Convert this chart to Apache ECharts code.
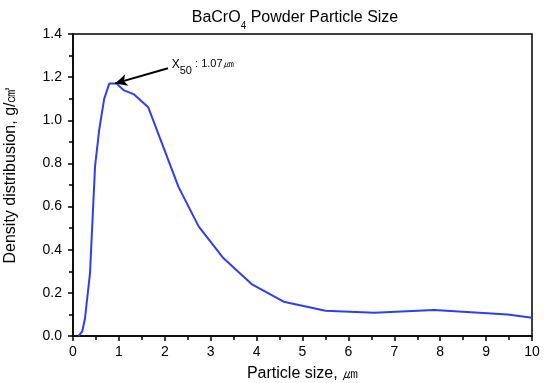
<!DOCTYPE html>
<html>
<head>
<meta charset="utf-8">
<script src="https://cdn.jsdelivr.net/npm/echarts@6/dist/echarts.min.js"></script>
<style>html,body{margin:0;padding:0;background:#fff;}#c{width:544px;height:383px;}</style>
</head>
<body>
<div id="c"></div>
<script>
const particleSize = [0.12, 0.2, 0.26, 0.37, 0.48, 0.57, 0.68, 0.79, 0.95, 1.10, 1.33, 1.64, 2.30, 2.74, 3.28, 3.89, 4.59, 5.50, 6.56, 7.87, 9.47, 10.0];
const density = [0, 0.02, 0.08, 0.29, 0.785, 0.955, 1.10, 1.17, 1.17, 1.14, 1.12, 1.06, 0.69, 0.507, 0.36, 0.241, 0.159, 0.117, 0.108, 0.12, 0.10, 0.085];
const arrowFrom = [2.07, 1.241];
const arrowTo = [0.92, 1.171];
const labelAt = [2.14, 1.245];

const FONT = 'Liberation Sans, Arial, sans-serif';
const chart = echarts.init(document.getElementById('c'), null, {renderer: 'canvas'});
const data = particleSize.map((x, i) => [x, density[i]]);

chart.setOption({
  backgroundColor: '#fff',
  animation: false,
  title: {
    text: '{m|BaCrO}{s|4}{m| Powder Particle Size}',
    left: 290, top: 5, textAlign: 'center',
    textStyle: {
      fontWeight: 'normal',
      rich: {
        m: {fontFamily: FONT, fontSize: 16, fontWeight: 'normal', color: '#000', lineHeight: 21, verticalAlign: 'top'},
        s: {fontFamily: FONT, fontSize: 10, fontWeight: 'normal', color: '#000', lineHeight: 21, verticalAlign: 'bottom', padding: [11, 0, 0, 0]}
      }
    }
  },
  grid: {left: 73, right: 12, top: 34, bottom: 47, show: true, borderColor: '#000', borderWidth: 1.5, containLabel: false, outerBoundsMode: 'none'},
  xAxis: {
    type: 'value', min: 0, max: 10, interval: 1,
    name: 'Particle size, ㎛', nameLocation: 'middle', nameGap: 30,
    nameTextStyle: {fontFamily: FONT, fontSize: 16, color: '#000'},
    axisLine: {show: true, lineStyle: {color: '#000', width: 1.5}},
    axisTick: {show: true, inside: false, length: 5, lineStyle: {color: '#000', width: 1.5}},
    minorTick: {show: true, splitNumber: 2, length: 4, lineStyle: {color: '#000', width: 1.5}},
    splitLine: {show: false},
    axisLabel: {fontFamily: FONT, fontSize: 14, color: '#000', margin: 9}
  },
  yAxis: {
    type: 'value', min: 0, max: 1.4, interval: 0.2,
    name: 'Density distribusion, g/㎤', nameLocation: 'middle', nameGap: 54,
    nameTextStyle: {fontFamily: FONT, fontSize: 16, color: '#000', padding: [0, 0, 0, 20]},
    axisLine: {show: true, lineStyle: {color: '#000', width: 1.5}},
    axisTick: {show: true, inside: false, length: 5, lineStyle: {color: '#000', width: 1.5}},
    minorTick: {show: true, splitNumber: 2, length: 4, lineStyle: {color: '#000', width: 1.5}},
    splitLine: {show: false},
    axisLabel: {fontFamily: FONT, fontSize: 14, color: '#000', margin: 11, formatter: v => v.toFixed(1)}
  },
  series: [{
    type: 'line', data: data, showSymbol: false, symbol: 'none',
    lineStyle: {color: '#2f3ff0', width: 2},
    markLine: {
      silent: true, symbol: ['none', 'arrow'], symbolSize: [9, 12],
      lineStyle: {color: '#000', width: 2, type: 'solid'},
      label: {show: false},
      data: [[{coord: arrowFrom}, {coord: arrowTo}]]
    },
    markPoint: {
      silent: true, symbol: 'circle', symbolSize: 1,
      itemStyle: {color: 'rgba(0,0,0,0)'},
      data: [{coord: labelAt}],
      label: {
        show: true, position: 'right', distance: 0,
        formatter: '{x|X}{s|50}{t| : 1.07㎛}',
        rich: {
          x: {fontFamily: FONT, fontSize: 12, color: '#000', verticalAlign: 'top', lineHeight: 18},
          s: {fontFamily: FONT, fontSize: 11, color: '#000', padding: [7, 0, 0, 0], lineHeight: 18},
          t: {fontFamily: FONT, fontSize: 11, color: '#000', verticalAlign: 'top', lineHeight: 18}
        }
      }
    }
  }]
});
</script>
</body>
</html>
